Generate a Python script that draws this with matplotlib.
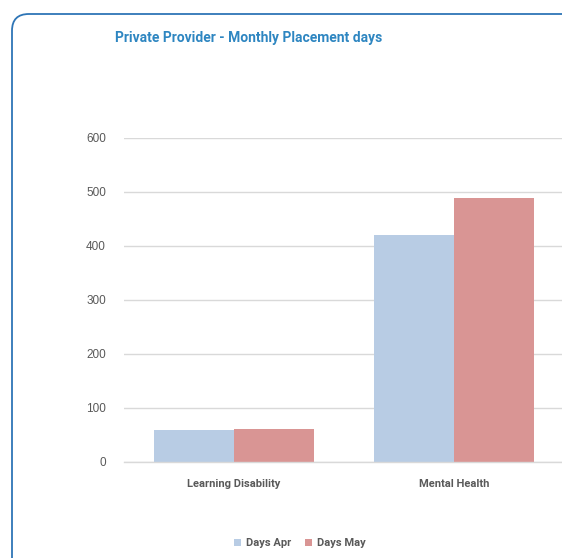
import numpy as np
import matplotlib.pyplot as plt
from matplotlib.patches import FancyBboxPatch

# chart values
categories = ["Learning Disability", "Mental Health"]
days_apr = [59, 420]
days_may = [62, 489]
series_names = ["Days Apr", "Days May"]
yticks = [0, 100, 200, 300, 400, 500, 600]

apr_color = "#B8CCE4"
may_color = "#D99594"
text_grey = "#595959"
narrow = ["Liberation Sans Narrow", "DejaVu Sans Condensed", "Roboto", "DejaVu Sans"]

fig = plt.figure(figsize=(5.62, 5.58), dpi=100)

# rounded card border, cut off on the right and bottom
card = FancyBboxPatch((12 / 562, -0.2), 1.2, 1 - 14 / 558 + 0.2,
                      boxstyle="round,pad=0,rounding_size=0.03",
                      transform=fig.transFigure, facecolor="none",
                      edgecolor="#2E75B6", linewidth=1.3, zorder=0)
fig.patches.append(card)

fig.text(115 / 562, 1 - 38 / 558, "Private Provider - Monthly Placement days",
         color="#2E86C1", fontsize=10, fontweight="bold", family=narrow,
         va="center", ha="left")

ax = fig.add_axes([124 / 562, 1 - 462 / 558, 440 / 562, 324 / 558])
ax.set_facecolor("none")

x = np.arange(len(categories))
w = 0.364
ax.bar(x - w / 2, days_apr, w, color=apr_color, label=series_names[0], zorder=2)
ax.bar(x + w / 2, days_may, w, color=may_color, label=series_names[1], zorder=2)

ax.set_xlim(-0.5, 1.5)
ax.set_ylim(0, 600)
ax.set_yticks(yticks)
ax.set_yticklabels([str(t) for t in yticks], color=text_grey, fontsize=8.5,
                   family=["Liberation Sans", "DejaVu Sans"])
ax.set_xticks(x)
ax.set_xticklabels(categories, color=text_grey, fontsize=8, fontweight="bold",
                   family=narrow)
ax.tick_params(axis="y", length=0, pad=13)
ax.tick_params(axis="x", length=0, pad=12)
ax.grid(axis="y", color="#D9D9D9", linewidth=1, zorder=0)
for s in ["top", "right", "left"]:
    ax.spines[s].set_visible(False)
ax.spines["bottom"].set_color("#D9D9D9")
ax.spines["bottom"].set_linewidth(1)

leg = fig.legend(loc="center", bbox_to_anchor=(300 / 562, 1 - 543 / 558),
                 ncol=2, frameon=False, handlelength=0.6, handleheight=0.6,
                 handletextpad=0.5, columnspacing=1.2,
                 prop={"family": narrow, "weight": "bold", "size": 8})
for t in leg.get_texts():
    t.set_color(text_grey)

fig.savefig("out.png", dpi=100)
